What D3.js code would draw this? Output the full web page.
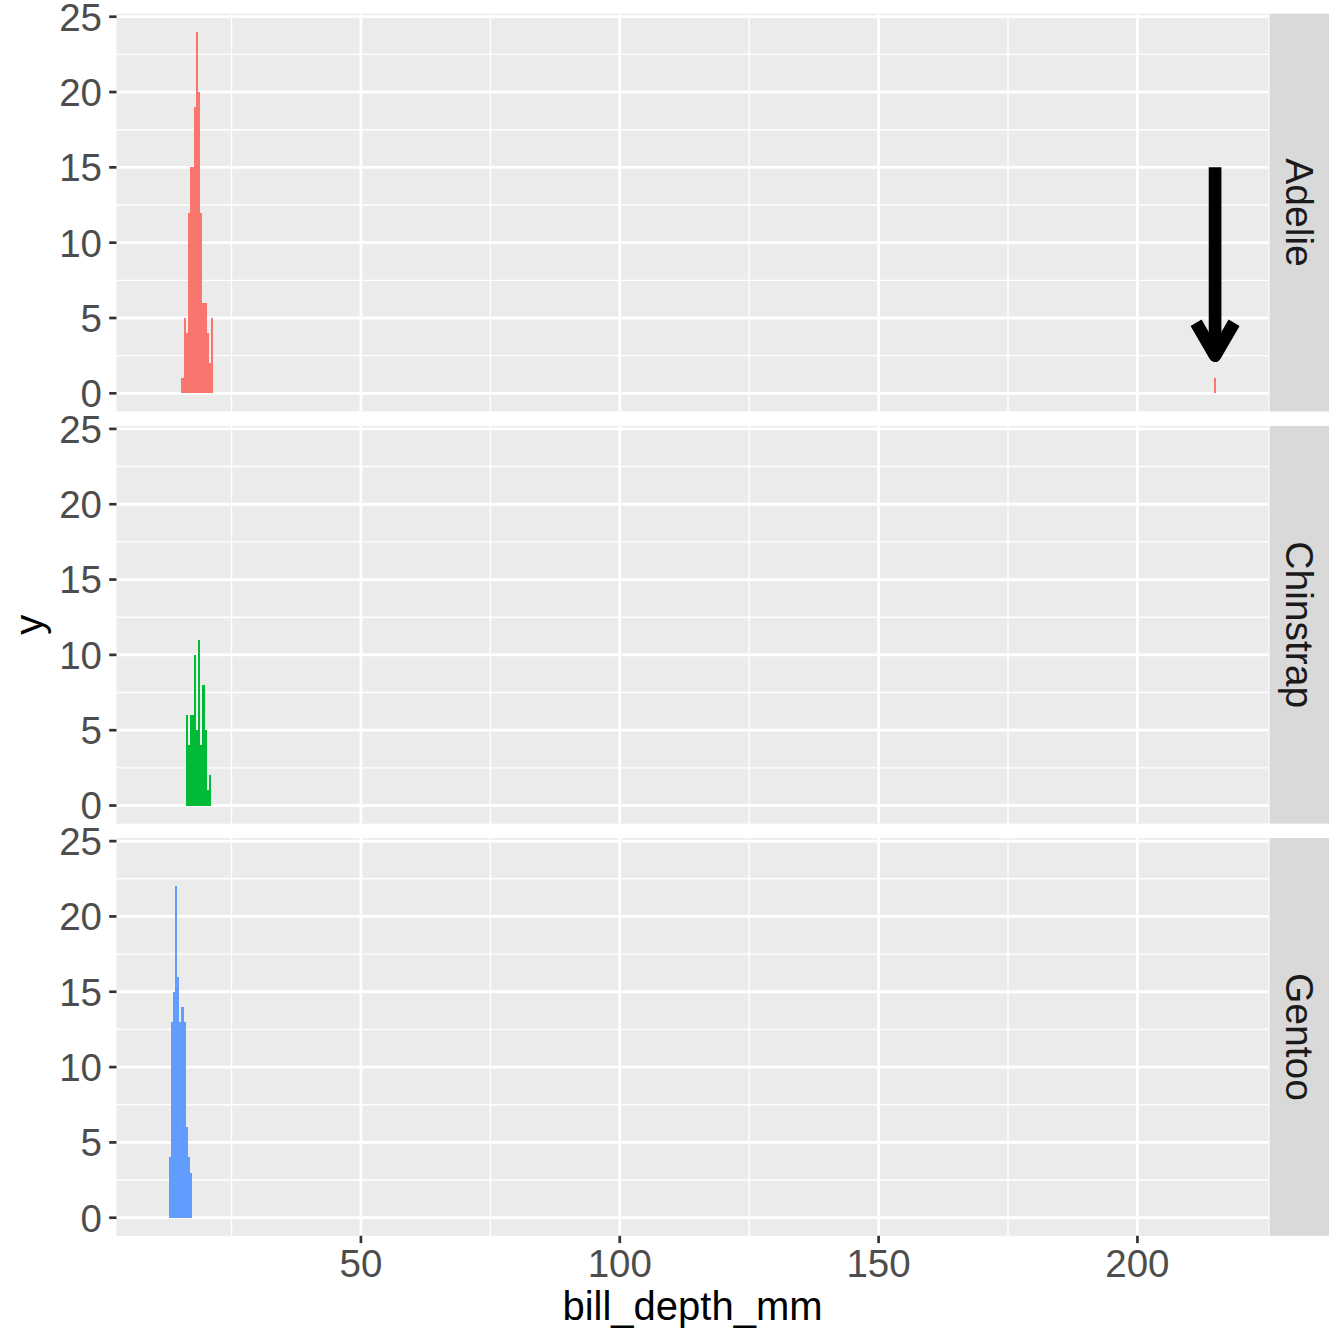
<!DOCTYPE html>
<html lang="en">
<head>
   <meta charset="UTF-8">
   <title>bill_depth_mm histogram by species</title>
   <script src="https://cdn.jsdelivr.net/npm/d3@7"></script>
   <style>
      body { margin: 0; background: #ffffff; }
      svg { display: block; font-family: "Liberation Sans", Arial, sans-serif; }
   </style>
</head>
<body>
   <svg width="1344" height="1344"></svg>

   <script>
       // histogram bins (bin start, count)
       const species = ["Adelie", "Chinstrap", "Gentoo"];
       const speciesColors = ["#F8766D", "#00BA38", "#619CFF"];
       const binWidth = 0.4046;

       const adelieBins   = [15.33, 15.73, 16.13, 16.54, 16.94, 17.35, 17.75, 18.16, 18.56, 18.97, 19.37, 19.78, 20.18, 20.58, 20.99, 214.80];
       const adelieCounts = [1, 5, 4, 12, 15, 15, 19, 24, 20, 12, 6, 6, 4, 2, 5, 1];

       const chinstrapBins   = [16.13, 16.54, 16.94, 17.35, 17.75, 18.16, 18.56, 18.97, 19.37, 19.78, 20.18, 20.58];
       const chinstrapCounts = [6, 4, 6, 6, 10, 5, 11, 4, 8, 5, 1, 2];

       const gentooBins   = [12.90, 13.30, 13.71, 14.11, 14.52, 14.92, 15.33, 15.73, 16.13, 16.54, 16.94];
       const gentooCounts = [4, 13, 15, 22, 16, 13, 14, 13, 6, 4, 3];

       const xTicks = [50, 100, 150, 200];
       const xMinor = [25, 75, 125, 175];
       const yTicks = [0, 5, 10, 15, 20, 25];
       const yMinor = [2.5, 7.5, 12.5, 17.5, 22.5];

       // annotation arrow pointing at the odd Adelie value
       const arrowX = 215, arrowYStart = 15, arrowYEnd = 2.5;

       const binsBySpecies = [adelieBins, chinstrapBins, gentooBins];
       const countsBySpecies = [adelieCounts, chinstrapCounts, gentooCounts];

       const svg = d3.select('svg');

       const panelLeft = 116.5, panelRight = 1268.5;
       const panelTop = 13.7, panelH = 397.7, panelGap = 14.5;
       const stripW = 59.5;

       // x limits: bin range expanded by 5%
       const allStarts = binsBySpecies.flat();
       const xLo = d3.min(allStarts), xHi = d3.max(allStarts) + binWidth;
       const xPad = (xHi - xLo) * 0.05;
       const x = d3.scaleLinear().domain([xLo - xPad, xHi + xPad]).range([panelLeft, panelRight]);

       const yMax = d3.max(countsBySpecies.flat());
       const yPad = yMax * 0.05;

       species.forEach((sp, i) => {
           const top = panelTop + i * (panelH + panelGap);
           const y = d3.scaleLinear().domain([-yPad, yMax + yPad]).range([top + panelH, top]);
           const g = svg.append('g');

           g.append('rect')
               .attr('x', panelLeft).attr('y', top)
               .attr('width', panelRight - panelLeft).attr('height', panelH)
               .attr('fill', '#EBEBEB');

           // minor grid
           g.selectAll('.ymin').data(yMinor).join('line')
               .attr('x1', panelLeft).attr('x2', panelRight)
               .attr('y1', d => y(d)).attr('y2', d => y(d))
               .attr('stroke', '#fff').attr('stroke-width', 1.4);
           g.selectAll('.xmin').data(xMinor).join('line')
               .attr('x1', d => x(d)).attr('x2', d => x(d))
               .attr('y1', top).attr('y2', top + panelH)
               .attr('stroke', '#fff').attr('stroke-width', 1.4);
           // major grid
           g.selectAll('.ymaj').data(yTicks).join('line')
               .attr('x1', panelLeft).attr('x2', panelRight)
               .attr('y1', d => y(d)).attr('y2', d => y(d))
               .attr('stroke', '#fff').attr('stroke-width', 2.8);
           g.selectAll('.xmaj').data(xTicks).join('line')
               .attr('x1', d => x(d)).attr('x2', d => x(d))
               .attr('y1', top).attr('y2', top + panelH)
               .attr('stroke', '#fff').attr('stroke-width', 2.8);

           // bars
           const bars = binsBySpecies[i].map((b, k) => ({ x0: b, n: countsBySpecies[i][k] }));
           g.selectAll('.bar').data(bars).join('rect')
               .attr('x', d => x(d.x0))
               .attr('width', x(binWidth) - x(0) + 0.05)
               .attr('y', d => y(d.n))
               .attr('height', d => y(0) - y(d.n))
               .attr('fill', speciesColors[i])
               .attr('shape-rendering', 'crispEdges');

           // y axis ticks + labels
           g.selectAll('.ytick').data(yTicks).join('line')
               .attr('x1', panelLeft - 7.3).attr('x2', panelLeft)
               .attr('y1', d => y(d)).attr('y2', d => y(d))
               .attr('stroke', '#333333').attr('stroke-width', 2.7);
           g.selectAll('.ylab').data(yTicks).join('text')
               .attr('x', panelLeft - 14.5)
               .attr('y', d => y(d))
               .attr('dy', '0.36em')
               .attr('text-anchor', 'end')
               .attr('font-size', 38.5)
               .attr('fill', '#4D4D4D')
               .text(d => d);

           // strip on the right
           g.append('rect')
               .attr('x', panelRight + 1).attr('y', top)
               .attr('width', stripW).attr('height', panelH)
               .attr('fill', '#D9D9D9');
           g.append('text')
               .attr('transform', `translate(${panelRight + 1 + stripW / 2 - 13.5},${top + panelH / 2}) rotate(90)`)
               .attr('text-anchor', 'middle')
               .attr('font-size', 39)
               .attr('fill', '#1A1A1A')
               .text(sp);

           if (sp === 'Adelie') {
               const ax = x(arrowX), ay0 = y(arrowYStart), ay1 = y(arrowYEnd);
               const armLen = 38, ang = Math.PI / 6;
               g.append('line')
                   .attr('x1', ax).attr('x2', ax)
                   .attr('y1', ay0).attr('y2', ay1)
                   .attr('stroke', '#000').attr('stroke-width', 12.7)
                   .attr('stroke-linecap', 'butt');
               g.append('path')
                   .attr('d', `M${ax - armLen * Math.sin(ang)},${ay1 - armLen * Math.cos(ang)} L${ax},${ay1} L${ax + armLen * Math.sin(ang)},${ay1 - armLen * Math.cos(ang)}`)
                   .attr('fill', 'none')
                   .attr('stroke', '#000').attr('stroke-width', 12.7)
                   .attr('stroke-linejoin', 'round')
                   .attr('stroke-linecap', 'butt');
           }
       });

       // x axis under the last panel
       const bottom = panelTop + 3 * panelH + 2 * panelGap;
       svg.selectAll('.xtick').data(xTicks).join('line')
           .attr('x1', d => x(d)).attr('x2', d => x(d))
           .attr('y1', bottom).attr('y2', bottom + 7.3)
           .attr('stroke', '#333333').attr('stroke-width', 2.7);
       svg.selectAll('.xlab').data(xTicks).join('text')
           .attr('x', d => x(d))
           .attr('y', 1277)
           .attr('text-anchor', 'middle')
           .attr('font-size', 38.5)
           .attr('fill', '#4D4D4D')
           .text(d => d);

       // axis titles
       svg.append('text')
           .attr('x', (panelLeft + panelRight) / 2)
           .attr('y', 1320)
           .attr('text-anchor', 'middle')
           .attr('font-size', 40)
           .attr('fill', '#000')
           .text('bill_depth_mm');
       svg.append('text')
           .attr('transform', `translate(43,${(panelTop + bottom) / 2}) rotate(-90)`)
           .attr('text-anchor', 'middle')
           .attr('font-size', 40)
           .attr('fill', '#000')
           .text('y');
   </script>
</body>
</html>
